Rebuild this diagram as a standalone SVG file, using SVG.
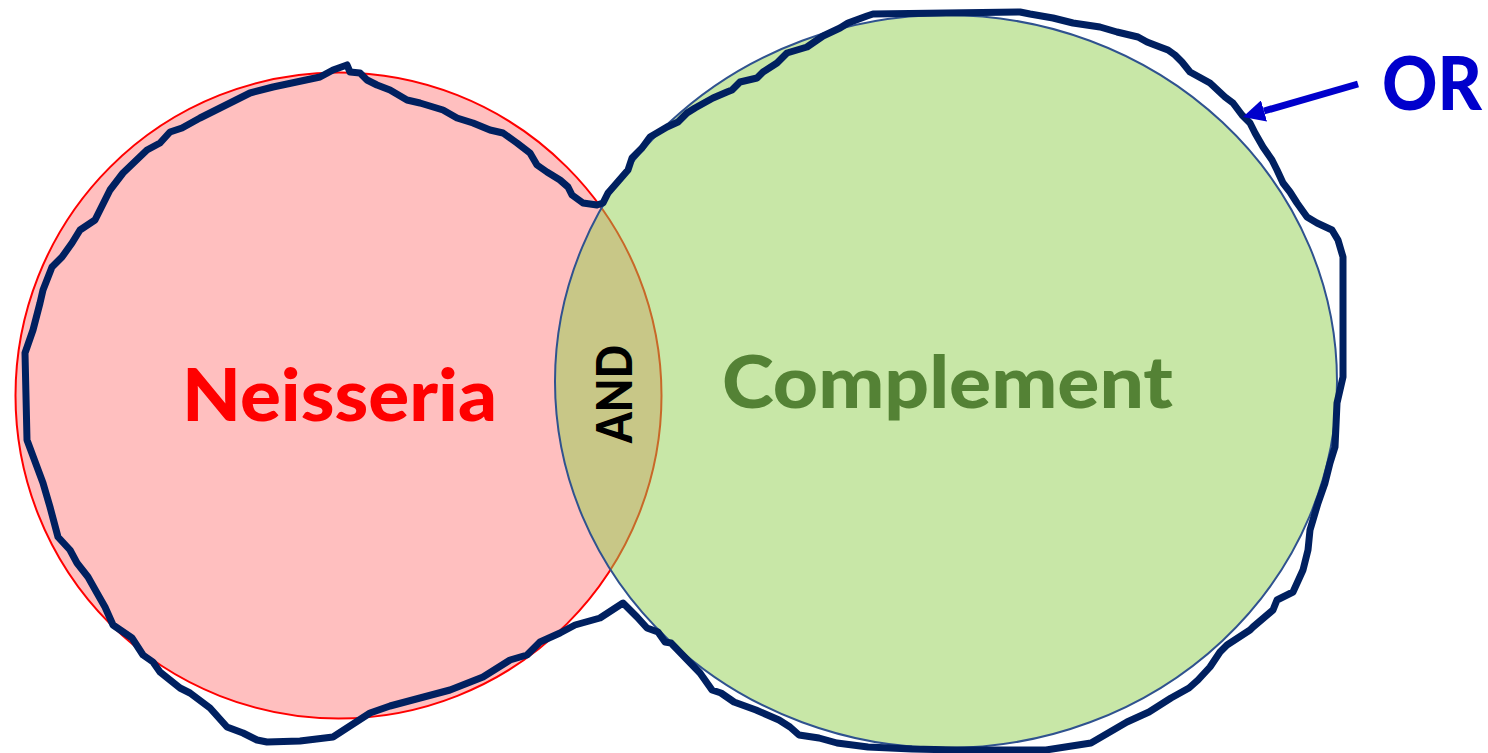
<svg xmlns="http://www.w3.org/2000/svg" width="1488" height="753" viewBox="0 0 1488 753">
<style>
.lbl{font-family:Lato,"Open Sans","Liberation Sans",sans-serif;font-weight:900;}
.outline{fill:none;stroke:#002060;stroke-width:7;stroke-linejoin:round;stroke-linecap:round;}
</style>
<defs>
<marker id="ah" viewBox="0 0 22 22" refX="0" refY="11" markerWidth="22" markerHeight="22" markerUnits="userSpaceOnUse" orient="auto">
<path d="M0,0 L22,11 L0,22 Z" fill="#0000CC"/>
</marker>
</defs>
<rect width="1488" height="753" fill="#ffffff"/>
<g id="neisseria">
<circle cx="338.5" cy="395.5" r="323" fill="#FF0000" fill-opacity="0.25" stroke="#FF0000" stroke-width="2"/>
<text class="lbl" x="339.5" y="421" font-size="72" fill="#FF0000" text-anchor="middle" textLength="315" lengthAdjust="spacingAndGlyphs">Neisseria</text>
</g>
<g id="complement">
<ellipse cx="946" cy="381.5" rx="391" ry="366.5" fill="#92D050" fill-opacity="0.5" stroke="#2F528F" stroke-width="2"/>
<text class="lbl" x="947.5" y="408" font-size="72" fill="#548235" text-anchor="middle" textLength="451" lengthAdjust="spacingAndGlyphs">Complement</text>
</g>
<g id="and">
<text class="lbl" transform="translate(632,394) rotate(-90)" x="0" y="0" font-size="49" fill="#000000" text-anchor="middle" textLength="98" lengthAdjust="spacingAndGlyphs">AND</text>
</g>
<g id="or">
<path class="outline" d="M347,65 L333,70 L320,77 L273,87 L250,93 L220,108 L200,118 L182,128 L170,132 L160,143 L147,150 L123,173 L110,190 L95,220 L80,230 L72,243 L62,257 L52,267 L43,290 L40,303 L33,330 L25,353 L27,440 L43,483 L50,507 L58,537 L70,550 L77,563 L88,577 L97,593 L105,607 L113,625 L132,638 L143,655 L153,662 L160,672 L170,680 L180,688 L190,693 L210,708 L227,727 L243,733 L257,740 L267,742 L300,741 L333,737 L370,713 L390,706 L420,698 L450,690 L483,677 L510,660 L527,655 L540,642 L560,633 L575,625 L600,618 L623,603 L637,617 L647,628 L658,632 L665,642 L671,643 L700,673 L712,690 L721,693 L734,702 L756,710 L779,720 L790,727 L799,735 L819,738 L837,743 L868,747 L912,749 L957,750 L1046,750 L1091,743 L1127,722 L1149,712 L1171,698 L1189,688 L1198,680 L1210,667 L1220,652 L1227,645 L1250,630 L1253,627 L1273,610 L1277,600 L1293,592 L1303,570 L1308,550 L1310,530 L1318,503 L1325,483 L1330,463 L1335,447 L1337,403 L1343,377 L1343,257 L1338,240 L1332,230 L1317,223 L1307,217 L1297,203 L1290,192 L1283,183 L1277,170 L1272,160 L1263,147 L1255,133 L1250,123 L1242,115 L1233,103 L1225,97 L1210,83 L1190,72 L1182,62 L1175,55 L1168,50 L1160,47 L1147,42 L1138,37 L1117,32 L1100,27 L1073,23 L1053,18 L1030,14 L1020,12 L873,14 L867,16 L848,23 L840,28 L823,36 L807,47 L787,53 L777,63 L763,72 L757,78 L740,82 L732,90 L727,92 L713,98 L695,108 L687,113 L678,122 L667,127 L650,137 L642,148 L632,158 L628,170 L615,185 L608,193 L603,203 L597,205 L583,203 L572,195 L568,187 L560,180 L547,172 L537,165 L530,153 L517,143 L503,133 L490,130 L473,123 L457,118 L443,110 L420,103 L407,100 L390,90 L377,85 L367,80 L360,73 L350,72 L347,65"/>
<text class="lbl" x="1432" y="110" font-size="74" fill="#0000CC" text-anchor="middle" textLength="100" lengthAdjust="spacingAndGlyphs">OR</text>
</g>
<g id="connectors">
<line x1="1358" y1="84" x2="1264" y2="111" stroke="#0000CC" stroke-width="7" marker-end="url(#ah)"/>
</g>
</svg>
